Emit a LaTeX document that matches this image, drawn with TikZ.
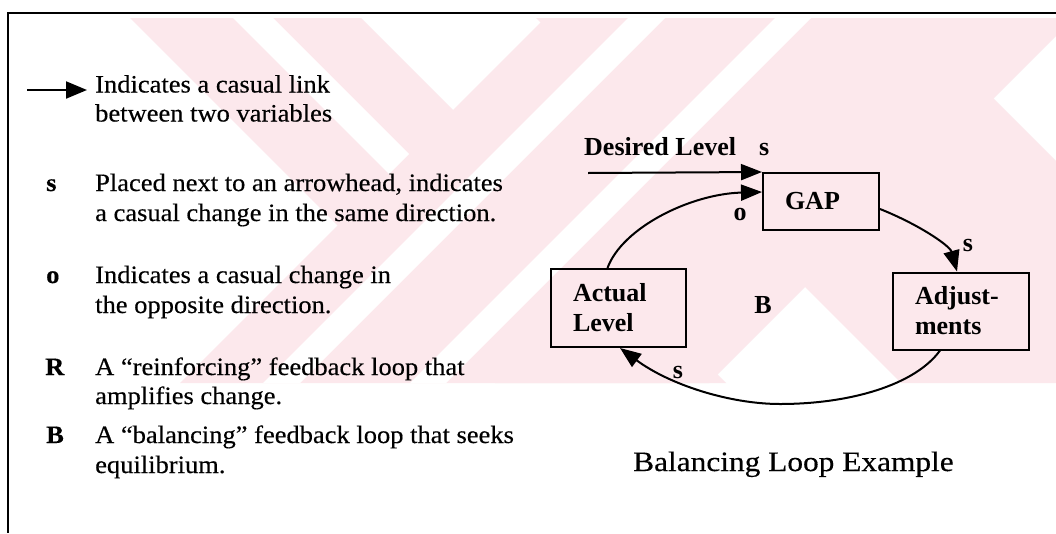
\documentclass[tikz,border=0pt]{standalone}
\usepackage{fontspec}
\setmainfont{Liberation Serif}
\newfontfamily\legendfont{Liberation Serif}[FakeStretch=1.06,FakeBold=0.35]
\newfontfamily\captionfont{Liberation Serif}[FakeStretch=1.12,FakeBold=0.35]
\usetikzlibrary{arrows.meta}
\definecolor{wmpink}{RGB}{252,232,236}

\begin{document}
\begin{tikzpicture}[x=1pt,y=-1pt,
  legend/.style={anchor=base west, inner sep=0pt,
    font=\legendfont\fontsize{25}{29}\selectfont},
  marker/.style={anchor=base west, inner sep=0pt,
    font=\legendfont\bfseries\fontsize{25}{29}\selectfont},
  lbl/.style={inner sep=0pt, font=\bfseries\fontsize{26}{30}\selectfont},
  varbox/.style={draw, line width=2pt, inner xsep=22pt, inner ysep=0pt,
    align=left, font=\bfseries\fontsize{26}{30}\selectfont},
  link/.style={line width=2pt, -{Triangle[length=21pt,width=16pt]}},
  frameline/.style={line width=2pt}]

\useasboundingbox (0,0) rectangle (1056,533);
\fill[white] (0,0) rectangle (1056,533);

% background mark: crossing light bands with thin white cuts
\begin{scope}
  \clip (0,18) rectangle (1056,383);
  \fill[wmpink] (130,18) -- (361,18) -- (726,383) -- (495,383) -- cycle;
  \fill[wmpink] (545,18) -- (1074,18) -- (709,383) -- (180,383) -- cycle;
  \fill[wmpink] (536,18) -- (913,18) -- (1278,383) -- (901,383) -- cycle;
  \fill[white] (628,18) -- (665,18) -- (300,383) -- (263,383) -- cycle;
  \fill[white] (775,18) -- (811,18) -- (446,383) -- (410,383) -- cycle;
  \fill[white] (233,18) -- (273,18) -- (409,154) -- (389,174) -- cycle;
\end{scope}

% frame (top and left sides)
\coordinate (fTL) at (8,13);
\coordinate (fTR) at (1056,13);
\coordinate (fBL) at (8,533);
\draw[frameline] (fTR) -- (fTL) -- (fBL);

% legend
\coordinate (la1) at (27,90);
\coordinate (la2) at (87,90);
\draw[line width=2pt, -{Triangle[length=21pt,width=17pt]}] (la1) -- (la2);
\node[legend] (l1a) at (95,92.5) {Indicates a casual link};
\node[legend] (l1b) at (95,121.5) {between two variables};

\node[marker] (ms) at (46,191) {s};
\node[legend] (l2a) at (95,191) {Placed next to an arrowhead, indicates};
\node[legend] (l2b) at (95,221) {a casual change in the same direction.};

\node[marker] (mo) at (46,283) {o};
\node[legend] (l3a) at (95,283) {Indicates a casual change in};
\node[legend] (l3b) at (95,313) {the opposite direction.};

\node[marker] (mr) at (45,375) {R};
\node[legend] (l4a) at (95,375) {A “reinforcing” feedback loop that};
\node[legend] (l4b) at (95,404) {amplifies change.};

\node[marker] (mb) at (46,443) {B};
\node[legend] (l5a) at (95,443) {A “balancing” feedback loop that seeks};
\node[legend] (l5b) at (95,473) {equilibrium.};

% balancing loop
\node[varbox, minimum width=116pt, minimum height=57pt, text width=72pt]
  (gap) at (821,201.5) {GAP};
\node[varbox, minimum width=135pt, minimum height=78pt, text width=91pt]
  (act) at (618.5,308) {Actual\\Level};
\node[varbox, minimum width=136pt, minimum height=77pt, text width=92pt]
  (adj) at (961,311) {Adjust-\\ments};

\node[lbl, anchor=base west] (des) at (584,155) {Desired Level};
\node[lbl, anchor=base west] (sdes) at (759,155) {s};
\coordinate (desStart) at (588,173);
\draw[link] (desStart) -- (gap.north west);

\draw[link] ([xshift=-11pt]act.north) .. controls (622,228) and (690,194) .. ([yshift=9.5pt]gap.west);
\node[lbl] (ogap) at (740,214) {o};

\draw[link] ([yshift=-7.5pt]gap.east) .. controls (920,225) and (950,246) .. ([xshift=-4pt]adj.north);
\node[lbl] (sadj) at (968,245) {s};

\draw[link] ([xshift=-21pt]adj.south) .. controls (915,385) and (850,404) .. (780,404)
  .. controls (730,404) and (670,385) .. ([xshift=1.5pt]act.south);
\node[lbl] (sact) at (678,372) {s};

\node[lbl] (loopB) at (763,305) {B};

\node[inner sep=0pt, anchor=base west, font=\captionfont\fontsize{28}{32}\selectfont]
  (cap) at (633,471) {Balancing Loop Example};

\end{tikzpicture}
\end{document}
